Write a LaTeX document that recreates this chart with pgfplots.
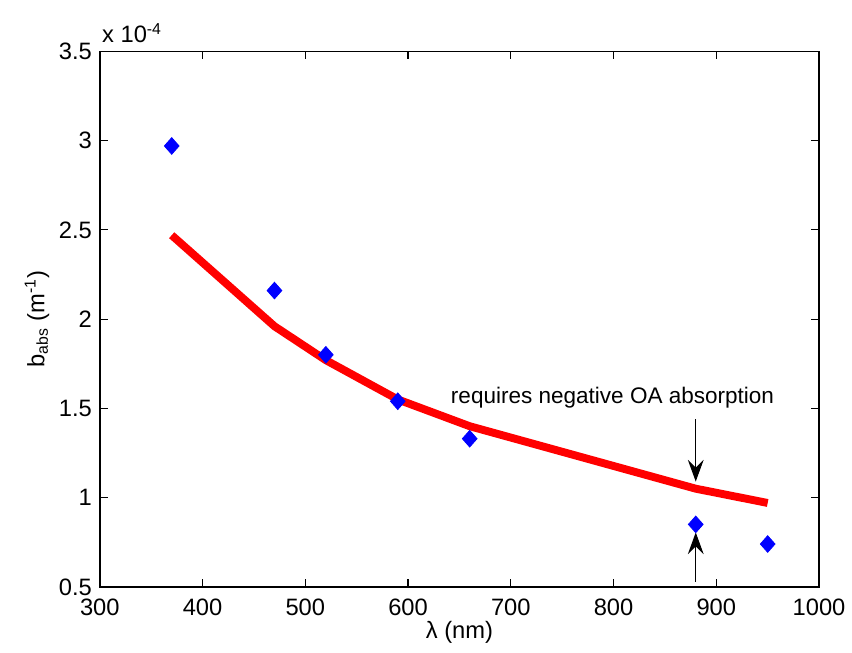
\documentclass[border=0pt]{standalone}
\usepackage{fontspec}
\setmainfont{Liberation Sans}
\usepackage{pgfplots}
\pgfplotsset{compat=1.18}
\usetikzlibrary{arrows.meta,calc}
\begin{document}
\begin{tikzpicture}
\begin{axis}[
  scale only axis,
  width=364pt, height=271pt,
  xmin=300, xmax=1000, ymin=0.5, ymax=3.5,
  xtick={300,400,...,1000},
  ytick={0.5,1,1.5,2,2.5,3,3.5},
  yticklabels={0.5,1,1.5,2,2.5,3,3.5},
  tick align=inside,
  major tick length=4pt,
  axis line style={line width=0.8pt},
  every tick/.style={black, line width=0.6pt},
  /pgf/number format/assume math mode=true,
  /pgf/number format/1000 sep={},
  tick label style={font=\fontsize{12}{14}\selectfont},
  label style={font=\fontsize{12}{14}\selectfont},
  xticklabel style={yshift=-2.5pt},
  yticklabel style={xshift=-0.5pt},
  xlabel={λ (nm)},
  ylabel={b\textsubscript{abs} (m\textsuperscript{-1})},
  xlabel style={yshift=4pt},
  ylabel style={yshift=-2pt},
  clip=false,
]
% model line
\addplot[red, line width=4pt, line join=round] coordinates {
  (370,2.47) (470,1.96) (520,1.77) (590,1.55) (660,1.40) (880,1.05) (950,0.97)
};
% measured points
\addplot[only marks, mark=diamond*, mark size=4.2pt, color=blue, fill=blue,
  mark options={xscale=1.18}] coordinates {
  (370,2.97) (470,2.16) (520,1.80) (590,1.54) (660,1.33) (880,0.85) (950,0.74)
};
\node[anchor=center, font=\fontsize{11.4}{13}\selectfont] at (axis cs:799,1.56) {requires negative OA absorption};
\draw[line width=0.5pt, -{Stealth[length=11pt, width=8pt, inset=4pt]}] (axis cs:880,1.44) -- (axis cs:880,1.09);
\draw[line width=0.5pt, -{Stealth[length=11pt, width=8pt, inset=4pt]}] (axis cs:880,0.53) -- (axis cs:880,0.805);
\node[anchor=south west, inner sep=0pt, font=\fontsize{12}{14}\selectfont] at ($(axis cs:300,3.5)+(1pt,4pt)$) {x 10\textsuperscript{-4}};
\end{axis}
\path ($(current axis.south west)+(-50.5pt,-33pt)$) rectangle ($(current axis.north east)+(13pt,26pt)$);
\end{tikzpicture}
\end{document}
